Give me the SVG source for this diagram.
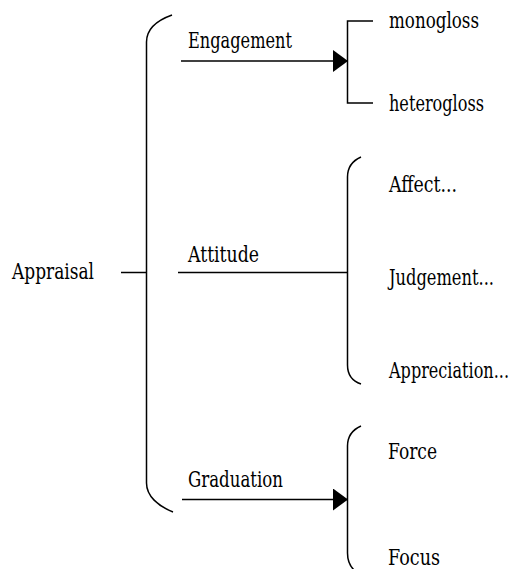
<svg xmlns="http://www.w3.org/2000/svg" width="512" height="569" viewBox="0 0 512 569">
<style>
.ln{fill:none;stroke:#000;stroke-width:1.5}
text{font-family:'DejaVu Serif',serif;font-size:23px;fill:#000}
</style>
<defs>
<marker id="arr" markerUnits="userSpaceOnUse" markerWidth="16" markerHeight="23" refX="15" refY="11" orient="auto">
<path d="M0,0 L15,11 L0,22 z" fill="#000"/>
</marker>
</defs>
<g id="connectors">
<path class="ln" d="M121,272.5 L146.5,272.5"/>
<path class="ln" d="M172,15 C158,20 146.5,28 146.5,42 L146.5,483 C146.5,496 158,506 173,512"/>
<path class="ln" d="M181,61 L348,61" marker-end="url(#arr)"/>
<path class="ln" d="M373,21 L347.5,21 L347.5,103 L373,103"/>
<path class="ln" d="M178,272.5 L347.5,272.5"/>
<path class="ln" d="M361,157 C352,161 347.5,167 347.5,177 L347.5,365 C347.5,375 352,381 361,384"/>
<path class="ln" d="M182,499.5 L348,499.5" marker-end="url(#arr)"/>
<path class="ln" d="M361,426 C352,430 347.5,436 347.5,446 L347.5,553 C347.5,561 350,566 354,570"/>
</g>
<g id="appraisal"><text x="12" y="279" textLength="82" lengthAdjust="spacingAndGlyphs">Appraisal</text></g>
<g id="engagement"><text x="188" y="48" textLength="104" lengthAdjust="spacingAndGlyphs">Engagement</text></g>
<g id="monogloss"><text x="389" y="28" textLength="90" lengthAdjust="spacingAndGlyphs">monogloss</text></g>
<g id="heterogloss"><text x="389" y="111" textLength="95" lengthAdjust="spacingAndGlyphs">heterogloss</text></g>
<g id="attitude"><text x="188" y="262" textLength="71" lengthAdjust="spacingAndGlyphs">Attitude</text></g>
<g id="affect"><text x="389" y="192" textLength="68" lengthAdjust="spacingAndGlyphs">Affect...</text></g>
<g id="judgement"><text x="389" y="285" textLength="105" lengthAdjust="spacingAndGlyphs">Judgement...</text></g>
<g id="appreciation"><text x="389" y="378" textLength="120" lengthAdjust="spacingAndGlyphs">Appreciation...</text></g>
<g id="graduation"><text x="188" y="487" textLength="95" lengthAdjust="spacingAndGlyphs">Graduation</text></g>
<g id="force"><text x="388" y="459" textLength="49" lengthAdjust="spacingAndGlyphs">Force</text></g>
<g id="focus"><text x="388" y="565" textLength="52" lengthAdjust="spacingAndGlyphs">Focus</text></g>
</svg>
